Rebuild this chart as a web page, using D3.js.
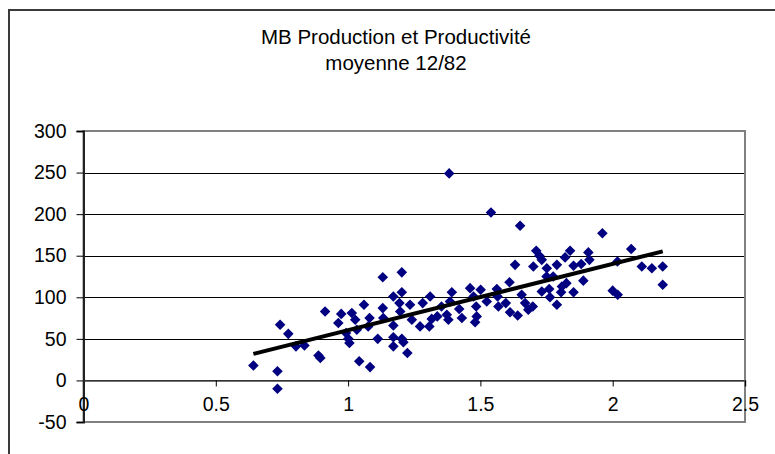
<!DOCTYPE html>
<html>
<head>
<meta charset="utf-8">
<script src="https://cdn.jsdelivr.net/npm/d3@7"></script>
<style>
  body { margin: 0; background: #fff; }
  svg { display: block; font-family: "Liberation Sans", Arial, sans-serif; }
</style>
</head>
<body>
<svg id="chart" width="775" height="454"></svg>
<script>
// productivité (x) vs production (y)
const prodX = [
  0.642, 0.733, 0.733, 0.743, 0.774, 0.803, 0.835, 0.888, 0.895, 0.913,
  0.963, 0.974, 0.992, 1.001, 1.005, 1.014, 1.027, 1.033, 1.042,
  1.060, 1.076, 1.081, 1.083, 1.112, 1.131, 1.131, 1.133, 1.171, 1.171,
  1.171, 1.171, 1.194, 1.197, 1.203, 1.203, 1.203, 1.209, 1.224, 1.234,
  1.241, 1.272, 1.282, 1.310, 1.307, 1.316, 1.337, 1.353, 1.373, 1.379,
  1.382, 1.385, 1.392, 1.420, 1.430, 1.461, 1.474, 1.484, 1.486, 1.480,
  1.501, 1.524, 1.540,
  1.562, 1.565, 1.568, 1.596, 1.610, 1.612, 1.631, 1.641, 1.650, 1.656,
  1.669, 1.681, 1.698, 1.700, 1.711, 1.723, 1.732, 1.732, 1.750, 1.751,
  1.760, 1.763, 1.775, 1.789, 1.789, 1.805, 1.808, 1.825, 1.820, 1.839,
  1.852, 1.852, 1.881, 1.889, 1.908, 1.912, 1.961, 2.000, 2.019, 2.018,
  2.070, 2.110, 2.148, 2.189, 2.189
];
const prodY = [
  18, 11, -10, 67, 56, 41, 42, 30, 27, 83,
  69, 80, 57, 50, 45, 81, 73, 61, 23,
  91, 65, 75, 16, 50, 124, 87, 75, 101, 66,
  52, 41, 93, 83, 130, 106, 50, 46, 33, 91,
  73, 65, 93, 101, 65, 74, 77, 89, 79, 73,
  249, 95, 106, 86, 75, 111, 101, 89, 77, 70,
  109, 95, 202,
  110, 101, 89, 93, 118, 82, 139, 78, 186, 103,
  93, 85, 89, 137, 156, 150, 145, 107, 125, 135,
  110, 100, 125, 139, 91, 106, 113, 117, 148, 156,
  138, 106, 140, 120, 154, 145, 177, 108, 103, 143,
  158, 137, 135, 137, 115
];
const xTicks = [0, 0.5, 1, 1.5, 2, 2.5];
const yTicks = [-50, 0, 50, 100, 150, 200, 250, 300];
const titleLines = ["MB Production et Productivité", "moyenne 12/82"];

const points = prodX.map((x, i) => ({ x, y: prodY[i] }));

const svg = d3.select("#chart");

// outer chart frame, runs off the right and bottom edges
svg.append("rect")
  .attr("x", 9).attr("y", 10)
  .attr("width", 900).attr("height", 600)
  .attr("fill", "none")
  .attr("stroke", "#3a3a3a")
  .attr("stroke-width", 2);

const x = d3.scaleLinear().domain([0, 2.5]).range([83.5, 745]);
const y = d3.scaleLinear().domain([-50, 300]).range([422, 131]);

// title
svg.append("g")
  .selectAll("text")
  .data(titleLines)
  .join("text")
  .attr("x", 396)
  .attr("y", (d, i) => 44 + i * 26)
  .attr("text-anchor", "middle")
  .style("font-size", "20.5px")
  .text((d) => d);

// gridlines
svg.append("g")
  .selectAll("line")
  .data(yTicks)
  .join("line")
  .attr("x1", x(0)).attr("x2", x(2.5))
  .attr("y1", (d) => Math.round(y(d)) + 0.5)
  .attr("y2", (d) => Math.round(y(d)) + 0.5)
  .attr("stroke", "#000")
  .attr("stroke-width", 1);

// plot area border
svg.append("rect")
  .attr("x", x(0)).attr("y", y(300))
  .attr("width", x(2.5) - x(0))
  .attr("height", y(-50) - y(300))
  .attr("fill", "none")
  .attr("stroke", "#808080")
  .attr("stroke-width", 2);

// y axis on the left (plain hyphen for negatives, like the original)
const yAxis = d3.axisLeft(y).tickValues(yTicks).tickSize(7).tickPadding(10)
  .tickFormat((d) => String(d));
const gy = svg.append("g")
  .attr("transform", `translate(${x(0)},0)`)
  .call(yAxis);
gy.select(".domain").attr("stroke", "#222").attr("stroke-width", 2);
gy.selectAll(".tick text")
  .style("font-size", "19.5px")
  .style("font-family", "'Liberation Sans', Arial, sans-serif")
  .attr("fill", "#000");

// x axis crosses at y = 0
const xAxis = d3.axisBottom(x).tickValues(xTicks).tickSize(6).tickFormat((d) => String(d));
const gx = svg.append("g")
  .attr("transform", `translate(0,${y(0)})`)
  .call(xAxis);
gx.select(".domain").attr("stroke", "#444").attr("stroke-width", 1.5);
gx.selectAll(".tick text")
  .attr("y", 37 - 6)
  .attr("dy", 0)
  .style("font-size", "19.5px")
  .style("font-family", "'Liberation Sans', Arial, sans-serif")
  .attr("fill", "#000");

// points
svg.append("g")
  .selectAll("path")
  .data(points)
  .join("path")
  .attr("d", d3.symbol(d3.symbolSquare, 56))
  .attr("transform", (d) => `translate(${x(d.x)},${y(d.y)}) rotate(45)`)
  .attr("fill", "#000080");

// linear trendline (least squares), drawn across the data range
const mx = d3.mean(points, (d) => d.x);
const my = d3.mean(points, (d) => d.y);
const slope = d3.sum(points, (d) => (d.x - mx) * (d.y - my)) /
  d3.sum(points, (d) => (d.x - mx) ** 2);
const icpt = my - slope * mx;
const [x0, x1] = d3.extent(points, (d) => d.x);

svg.append("line")
  .attr("x1", x(x0)).attr("y1", y(icpt + slope * x0))
  .attr("x2", x(x1)).attr("y2", y(icpt + slope * x1))
  .attr("stroke", "#000")
  .attr("stroke-width", 4);
</script>
</body>
</html>
